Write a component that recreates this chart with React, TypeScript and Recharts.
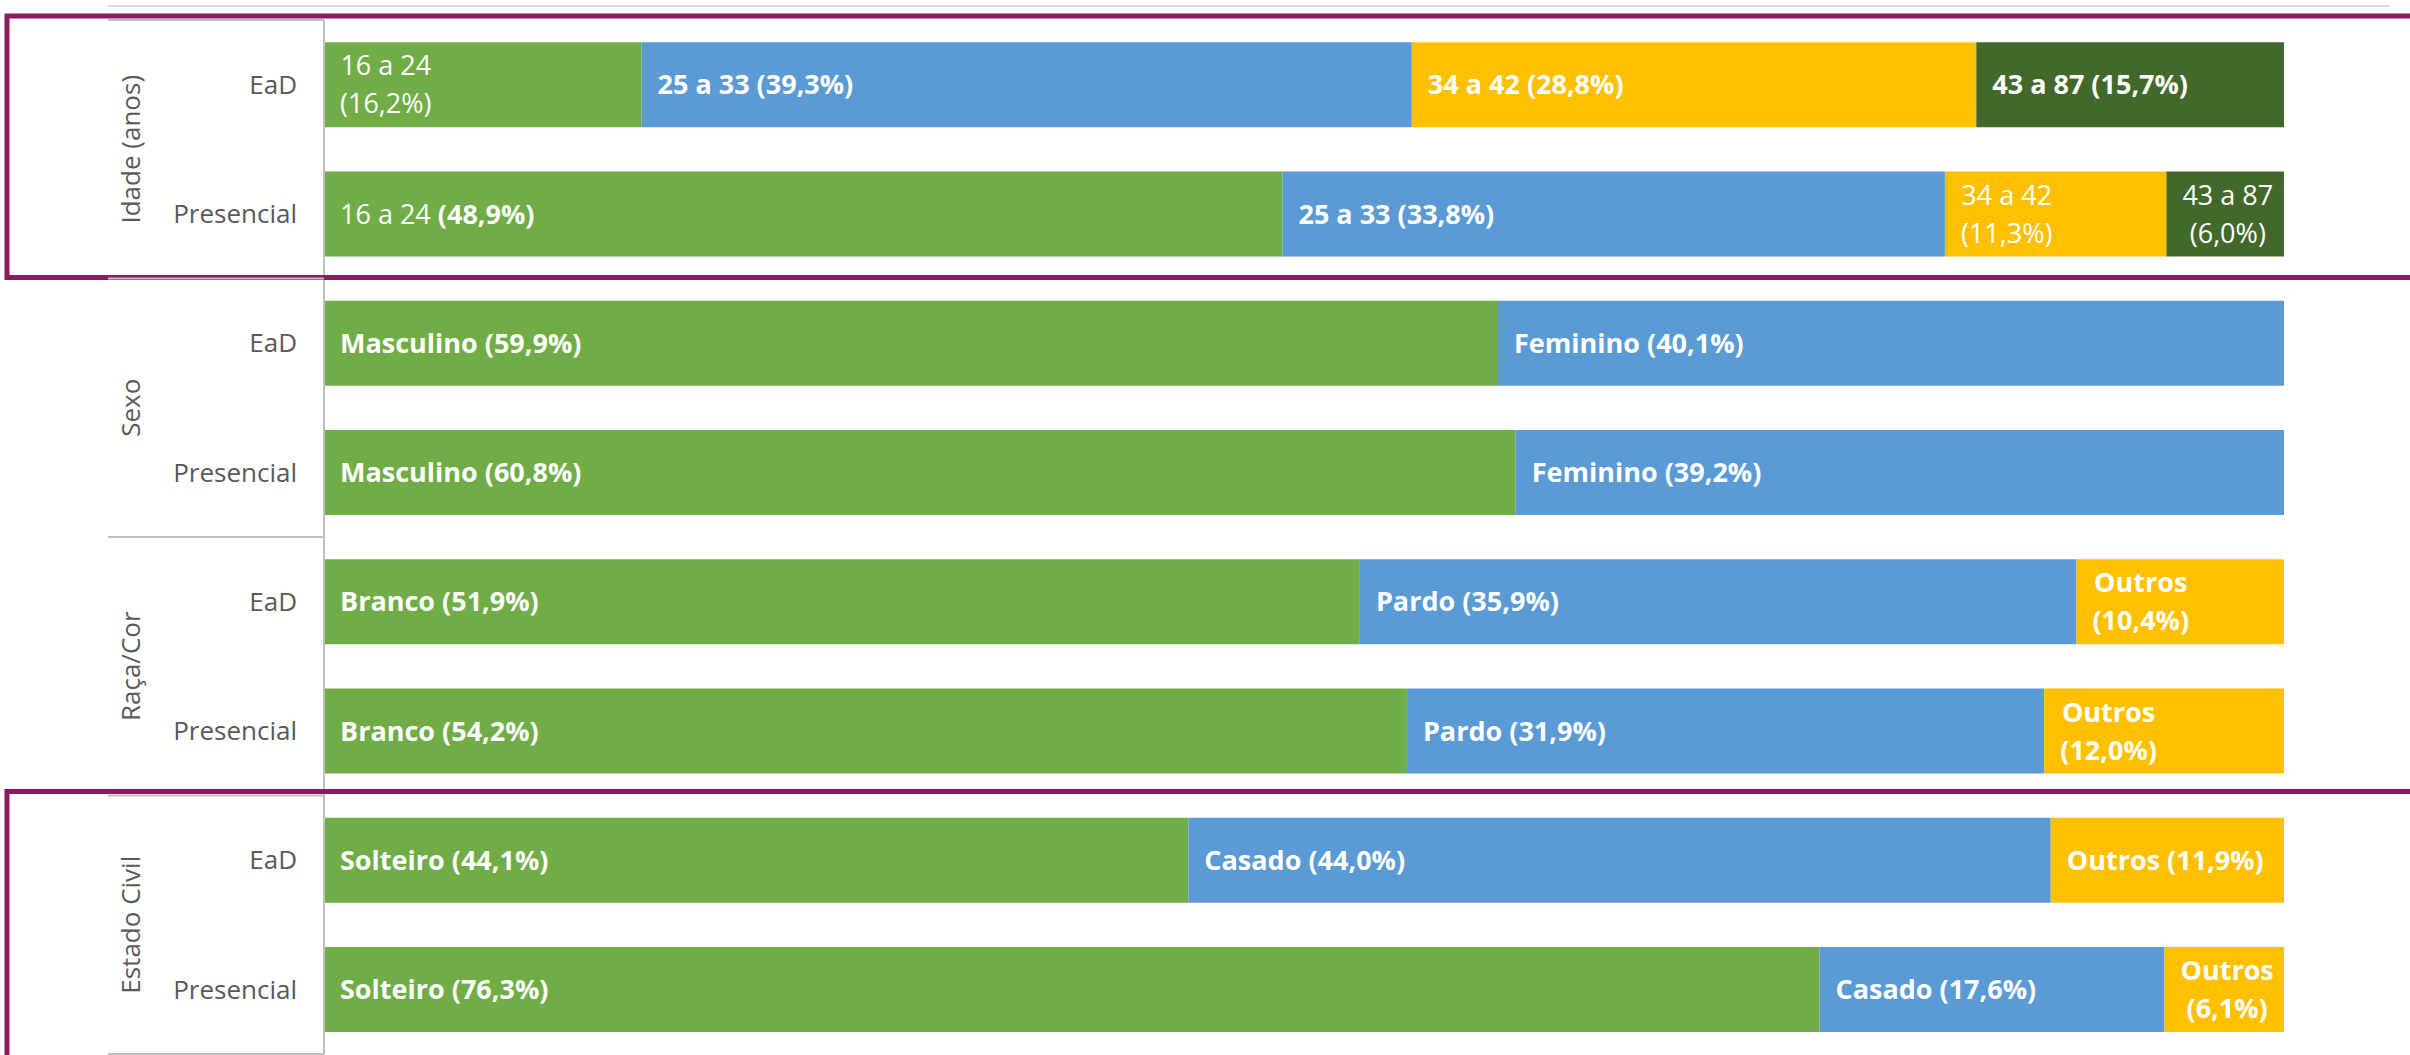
import React from 'react';
import { BarChart, Bar, XAxis, YAxis, LabelList } from 'recharts';

// ---------- data ----------
const groups = ['Idade (anos)', 'Sexo', 'Raça/Cor', 'Estado Civil'];
const modes = ['EaD', 'Presencial'];

const idadeCats = ['16 a 24', '25 a 33', '34 a 42', '43 a 87'];
const idadeEaD = [16.2, 39.3, 28.8, 15.7];
const idadePres = [48.9, 33.8, 11.3, 6.0];

const sexoCats = ['Masculino', 'Feminino'];
const sexoEaD = [59.9, 40.1];
const sexoPres = [60.8, 39.2];

const racaCats = ['Branco', 'Pardo', 'Outros'];
const racaEaD = [51.9, 35.9, 10.4];
const racaPres = [54.2, 31.9, 12.0];

const civilCats = ['Solteiro', 'Casado', 'Outros'];
const civilEaD = [44.1, 44.0, 11.9];
const civilPres = [76.3, 17.6, 6.1];

// ---------- styling ----------
const W = 2410;
const H = 1055;
const FONT = '"Open Sans", "Noto Sans", sans-serif';
const COLORS = ['#70AD47', '#5B9BD5', '#FFC000', '#43682B'];
const PURPLE = '#8B1A5E';
const GRID = '#BFBFBF';
const TEXT = '#595959';
const LABEL_FS = 27;
const TICK_FS = 26;
const LINE_H = 38;
const PAD = 16;
const AXIS_X = 324;
const MARGIN = { top: 20, right: 126, bottom: 1, left: 0 };

// label layout hints: [row, series]
const wrapSpec = [[0, 0], [1, 2], [1, 3], [4, 2], [5, 2], [7, 2]];
const regularSpec = [[0, 0], [1, 2], [1, 3]];
const mixedSpec = [[1, 0]];

const fmt = (v: number) => v.toFixed(1).replace('.', ',');

const rowSrc: [string, string, string[], number[]][] = [
  [groups[0], modes[0], idadeCats, idadeEaD],
  [groups[0], modes[1], idadeCats, idadePres],
  [groups[1], modes[0], sexoCats, sexoEaD],
  [groups[1], modes[1], sexoCats, sexoPres],
  [groups[2], modes[0], racaCats, racaEaD],
  [groups[2], modes[1], racaCats, racaPres],
  [groups[3], modes[0], civilCats, civilEaD],
  [groups[3], modes[1], civilCats, civilPres],
];

const data = rowSrc.map(([g, m, cats, vals]) => {
  const o: any = { key: `${g}|${m}` };
  vals.forEach((v, i) => {
    o[`s${i}`] = v;
    o[`l${i}`] = `${cats[i]} (${fmt(v)}%)`;
  });
  return o;
});

const toSet = (spec: number[][]) => new Set(spec.map(([r, s]) => data[r][`l${s}`] as string));
const wrappedLabels = toSet(wrapSpec);
const regularLabels = toSet(regularSpec);
const mixedLabels = toSet(mixedSpec);

let ctx: CanvasRenderingContext2D | null = null;
function measure(text: string, weight: number, size: number) {
  if (!ctx) {
    const c = document.createElement('canvas');
    ctx = c.getContext('2d');
  }
  if (!ctx) return text.length * size * 0.55;
  ctx.font = `${weight} ${size}px "Open Sans"`;
  return ctx.measureText(text).width;
}

const renderLabel = (props: any) => {
  const vb = props.viewBox && props.viewBox.width != null ? props.viewBox : props;
  const x = Number(vb.x);
  const y = Number(vb.y);
  const h = Number(vb.height);
  const value = props.value;
  if (value == null || !isFinite(x) || !isFinite(y)) return null;
  const text = String(value);
  const weight = regularLabels.has(text) ? 400 : 700;
  const cy = y + h / 2;
  const base = LABEL_FS * 0.357;
  const split = text.indexOf(' (');
  if (wrappedLabels.has(text)) {
    const lines = [text.slice(0, split), text.slice(split + 1)];
    const widths = lines.map((l) => measure(l, weight, LABEL_FS));
    const cx = x + PAD + Math.max(...widths) / 2;
    return (
      <text textAnchor="middle" fill="#fff" fontFamily={FONT} fontSize={LABEL_FS} fontWeight={weight}>
        {lines.map((l, i) => (
          <tspan key={i} x={cx} y={cy + base + (i - 0.5) * LINE_H}>
            {l}
          </tspan>
        ))}
      </text>
    );
  }
  if (mixedLabels.has(text)) {
    return (
      <text x={x + PAD} y={cy + base} fill="#fff" fontFamily={FONT} fontSize={LABEL_FS}>
        <tspan fontWeight={400}>{text.slice(0, split + 1)}</tspan>
        <tspan fontWeight={700}>{text.slice(split + 1)}</tspan>
      </text>
    );
  }
  return (
    <text x={x + PAD} y={cy + base} fill="#fff" fontFamily={FONT} fontSize={LABEL_FS} fontWeight={weight}>
      {text}
    </text>
  );
};

const GroupTick = (props: any) => {
  const { x, y, payload } = props;
  const index = payload?.index ?? props.index ?? 0;
  const coord = payload?.coordinate ?? y;
  const half = payload?.offset || (H - MARGIN.top - MARGIN.bottom) / 16;
  const [group, mode] = String(payload.value).split('|');
  const top = coord - half;
  const gy = coord + half;
  const bottom = coord + 3 * half;
  const isFirst = index % 2 === 0;
  return (
    <g>
      <text
        x={x}
        y={y + TICK_FS * 0.357}
        textAnchor="end"
        fill={TEXT}
        fontFamily={FONT}
        fontSize={TICK_FS}
      >
        {mode}
      </text>
      {isFirst && (
        <g>
          <line x1={108} x2={AXIS_X} y1={top} y2={top} stroke={GRID} strokeWidth={2} />
          {index === 6 && (
            <line x1={108} x2={AXIS_X} y1={bottom} y2={bottom} stroke={GRID} strokeWidth={2} />
          )}
          <text
            x={130}
            y={gy}
            transform={`rotate(-90 130 ${gy})`}
            textAnchor="middle"
            dominantBaseline="central"
            fill={TEXT}
            fontFamily={FONT}
            fontSize={TICK_FS}
          >
            {group}
          </text>
          {index === 0 && (
            <g>
              <line x1={108} x2={2390} y1={top - 14} y2={top - 14} stroke="#D9D9D9" strokeWidth={2} />
              <rect
                x={7}
                y={top - 4}
                width={W + 20}
                height={bottom - top + 3}
                fill="none"
                stroke={PURPLE}
                strokeWidth={5}
              />
            </g>
          )}
          {index === 6 && (
            <rect
              x={7}
              y={top - 4}
              width={W + 20}
              height={bottom - top + 60}
              fill="none"
              stroke={PURPLE}
              strokeWidth={5}
            />
          )}
        </g>
      )}
    </g>
  );
};

export default function App() {
  return (
    <div style={{ position: 'absolute', left: 0, top: 0, width: W, height: H, background: '#fff' }}>
      <BarChart
        width={W}
        height={H}
        data={data}
        layout="vertical"
        stackOffset="expand"
        barCategoryGap="17.3%"
        margin={MARGIN}
      >
        <XAxis type="number" hide domain={[0, 1]} />
        <YAxis
          type="category"
          dataKey="key"
          width={AXIS_X}
          axisLine={{ stroke: GRID, strokeWidth: 2 }}
          tickLine={false}
          tickSize={0}
          tickMargin={27}
          interval={0}
          tick={(p: any) => <GroupTick {...p} />}
        />
        {[0, 1, 2, 3].map((si) => (
          <Bar
            key={si}
            dataKey={`s${si}`}
            stackId="a"
            fill={COLORS[si]}
            isAnimationActive={false}
          >
            <LabelList dataKey={`l${si}`} content={renderLabel} />
          </Bar>
        ))}
      </BarChart>
    </div>
  );
}
